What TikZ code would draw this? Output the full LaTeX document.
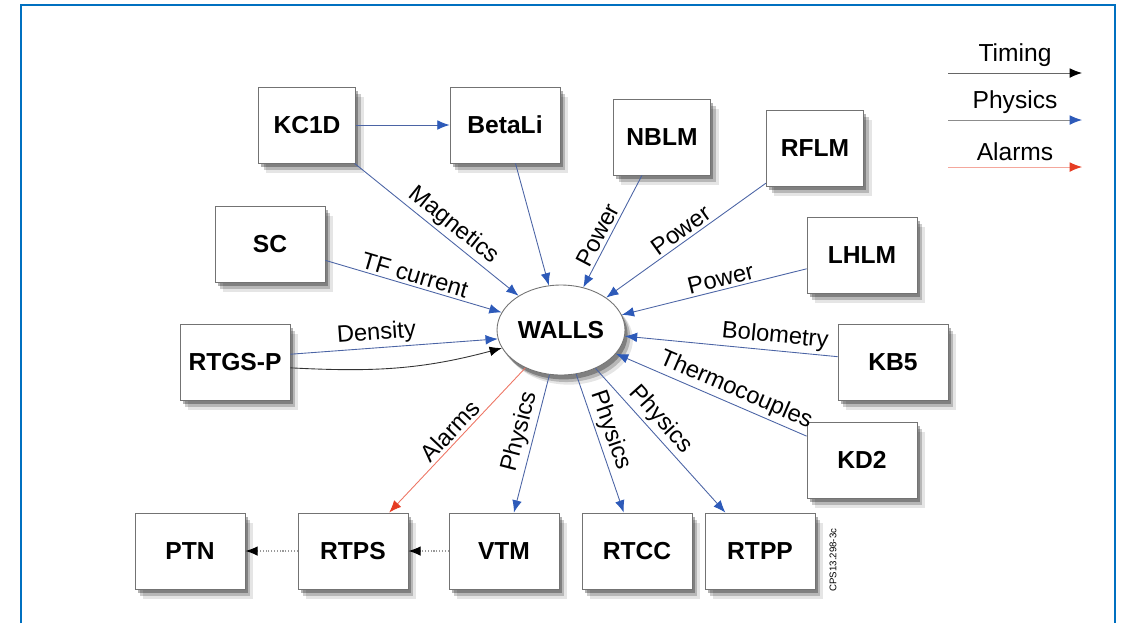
\documentclass[tikz,border=0pt]{standalone}
\usepackage{fontspec}
\setmainfont{Liberation Sans}
\usetikzlibrary{arrows.meta,shapes.geometric,shadows}
\definecolor{frameblue}{RGB}{0,112,192}
\definecolor{physblue}{RGB}{45,90,185}
\definecolor{physline}{RGB}{75,100,165}
\definecolor{alarmred}{RGB}{230,60,35}

\begin{document}
\begin{tikzpicture}[x=0.02cm, y=-0.02cm,
    soft/.style={drop shadow={shadow xshift=1.5pt, shadow yshift=-2.5pt, opacity=0.3, fill=black},
        drop shadow={shadow xshift=3pt, shadow yshift=-4pt, opacity=0.2, fill=black},
        drop shadow={shadow xshift=4.5pt, shadow yshift=-5.5pt, opacity=0.1, fill=black}},
    box/.style={draw=black!55, fill=white, line width=0.5pt, minimum width=2.2cm, minimum height=1.52cm,
        font=\fontsize{14}{16}\selectfont\bfseries, soft},
    narrow/.style={minimum width=1.95cm},
    phys/.style={draw=physline, line width=0.5pt, -{Latex[length=7pt,width=5.5pt,color=physblue]}},
    alarm/.style={draw=alarmred!70, line width=0.5pt, -{Latex[length=7pt,width=5.5pt,color=alarmred]}},
    timing/.style={draw=black!80, line width=0.5pt, -{Latex[length=7pt,width=5.5pt,color=black]}},
    link/.style={draw=black!40, densely dotted, line width=0.6pt, -{Latex[length=7pt,width=5.5pt,color=black]}},
    lbl/.style={font=\fontsize{13.5}{15}\selectfont, sloped, above, inner sep=1.5pt}]
    \useasboundingbox (0,0) rectangle (1121,623);
    \draw[frameblue, line width=1.4pt] (21,623) -- (21,5) -- (1115,5) -- (1115,623);

    \node[ellipse, draw=black!55, fill=white, line width=0.5pt, minimum width=2.56cm, minimum height=1.8cm, inner sep=0pt,
        font=\fontsize{14}{16}\selectfont\bfseries, soft] (walls) at (561,330) {WALLS};

    \node[box, narrow] (kc1d) at (307,125) {KC1D};
    \node[box] (betali) at (505,125) {BetaLi};
    \node[box, narrow] (nblm) at (662,137) {NBLM};
    \node[box, narrow] (rflm) at (815,148) {RFLM};
    \node[box] (sc) at (270,244) {SC};
    \node[box] (lhlm) at (862,255) {LHLM};
    \node[box] (rtgsp) at (235,362) {RTGS-P};
    \node[box] (kb5) at (893,362) {KB5};
    \node[box] (kd2) at (862,460) {KD2};
    \node[box] (ptn) at (190,551) {PTN};
    \node[box] (rtps) at (353,551) {RTPS};
    \node[box] (vtm) at (504,551) {VTM};
    \node[box] (rtcc) at (637,551) {RTCC};
    \node[box] (rtpp) at (760,551) {RTPP};

    \draw[phys] (kc1d) -- (betali);
    \draw[phys] (kc1d) -- node[lbl, pos=0.55] {Magnetics} (walls);
    \draw[phys] (betali) -- (walls);
    \draw[phys] (nblm) -- node[lbl, pos=0.58] {Power} (walls);
    \draw[phys] (rflm) -- node[lbl, pos=0.49] {Power} (walls);
    \draw[phys] (sc) -- node[lbl, pos=0.49] {TF current} (walls);
    \draw[phys] (lhlm) -- node[lbl, pos=0.45] {Power} (walls);
    \draw[phys] (rtgsp.8) -- node[lbl, pos=0.42] {Density} (walls.188);
    \draw[timing] (rtgsp.-6) to[out=-3, in=195] (walls.197);
    \draw[phys] (kb5) -- node[lbl, pos=0.3] {Bolometry} (walls);
    \draw[phys] (kd2) -- node[lbl, pos=0.4] {Thermocouples} (walls);

    \draw[alarm] (walls) -- node[lbl, pos=0.49] {Alarms} (rtps);
    \draw[phys] (walls) -- node[lbl, pos=0.44] {Physics} (vtm);
    \draw[phys] (walls) -- node[lbl, pos=0.44] {Physics} (rtcc);
    \draw[phys] (walls) -- node[lbl, pos=0.42] {Physics} (rtpp);
    \draw[link] (vtm) -- (rtps);
    \draw[link] (rtps) -- (ptn);

    \node[rotate=90, font=\fontsize{5.5}{6}\selectfont] (code) at (833,560) {CPS13.298-3c};

    \coordinate (tim0) at (948,73);  \coordinate (tim1) at (1082,73);
    \coordinate (phy0) at (948,120); \coordinate (phy1) at (1082,120);
    \coordinate (alm0) at (948,167); \coordinate (alm1) at (1082,167);
    \draw[timing, draw=black!60] (tim0) -- node[above, font=\fontsize{14}{16}\selectfont] {Timing} (tim1);
    \draw[phys, draw=black!45] (phy0) -- node[above, font=\fontsize{14}{16}\selectfont] {Physics} (phy1);
    \draw[alarm, draw=alarmred!45] (alm0) -- node[above, font=\fontsize{14}{16}\selectfont] {Alarms} (alm1);
\end{tikzpicture}
\end{document}
